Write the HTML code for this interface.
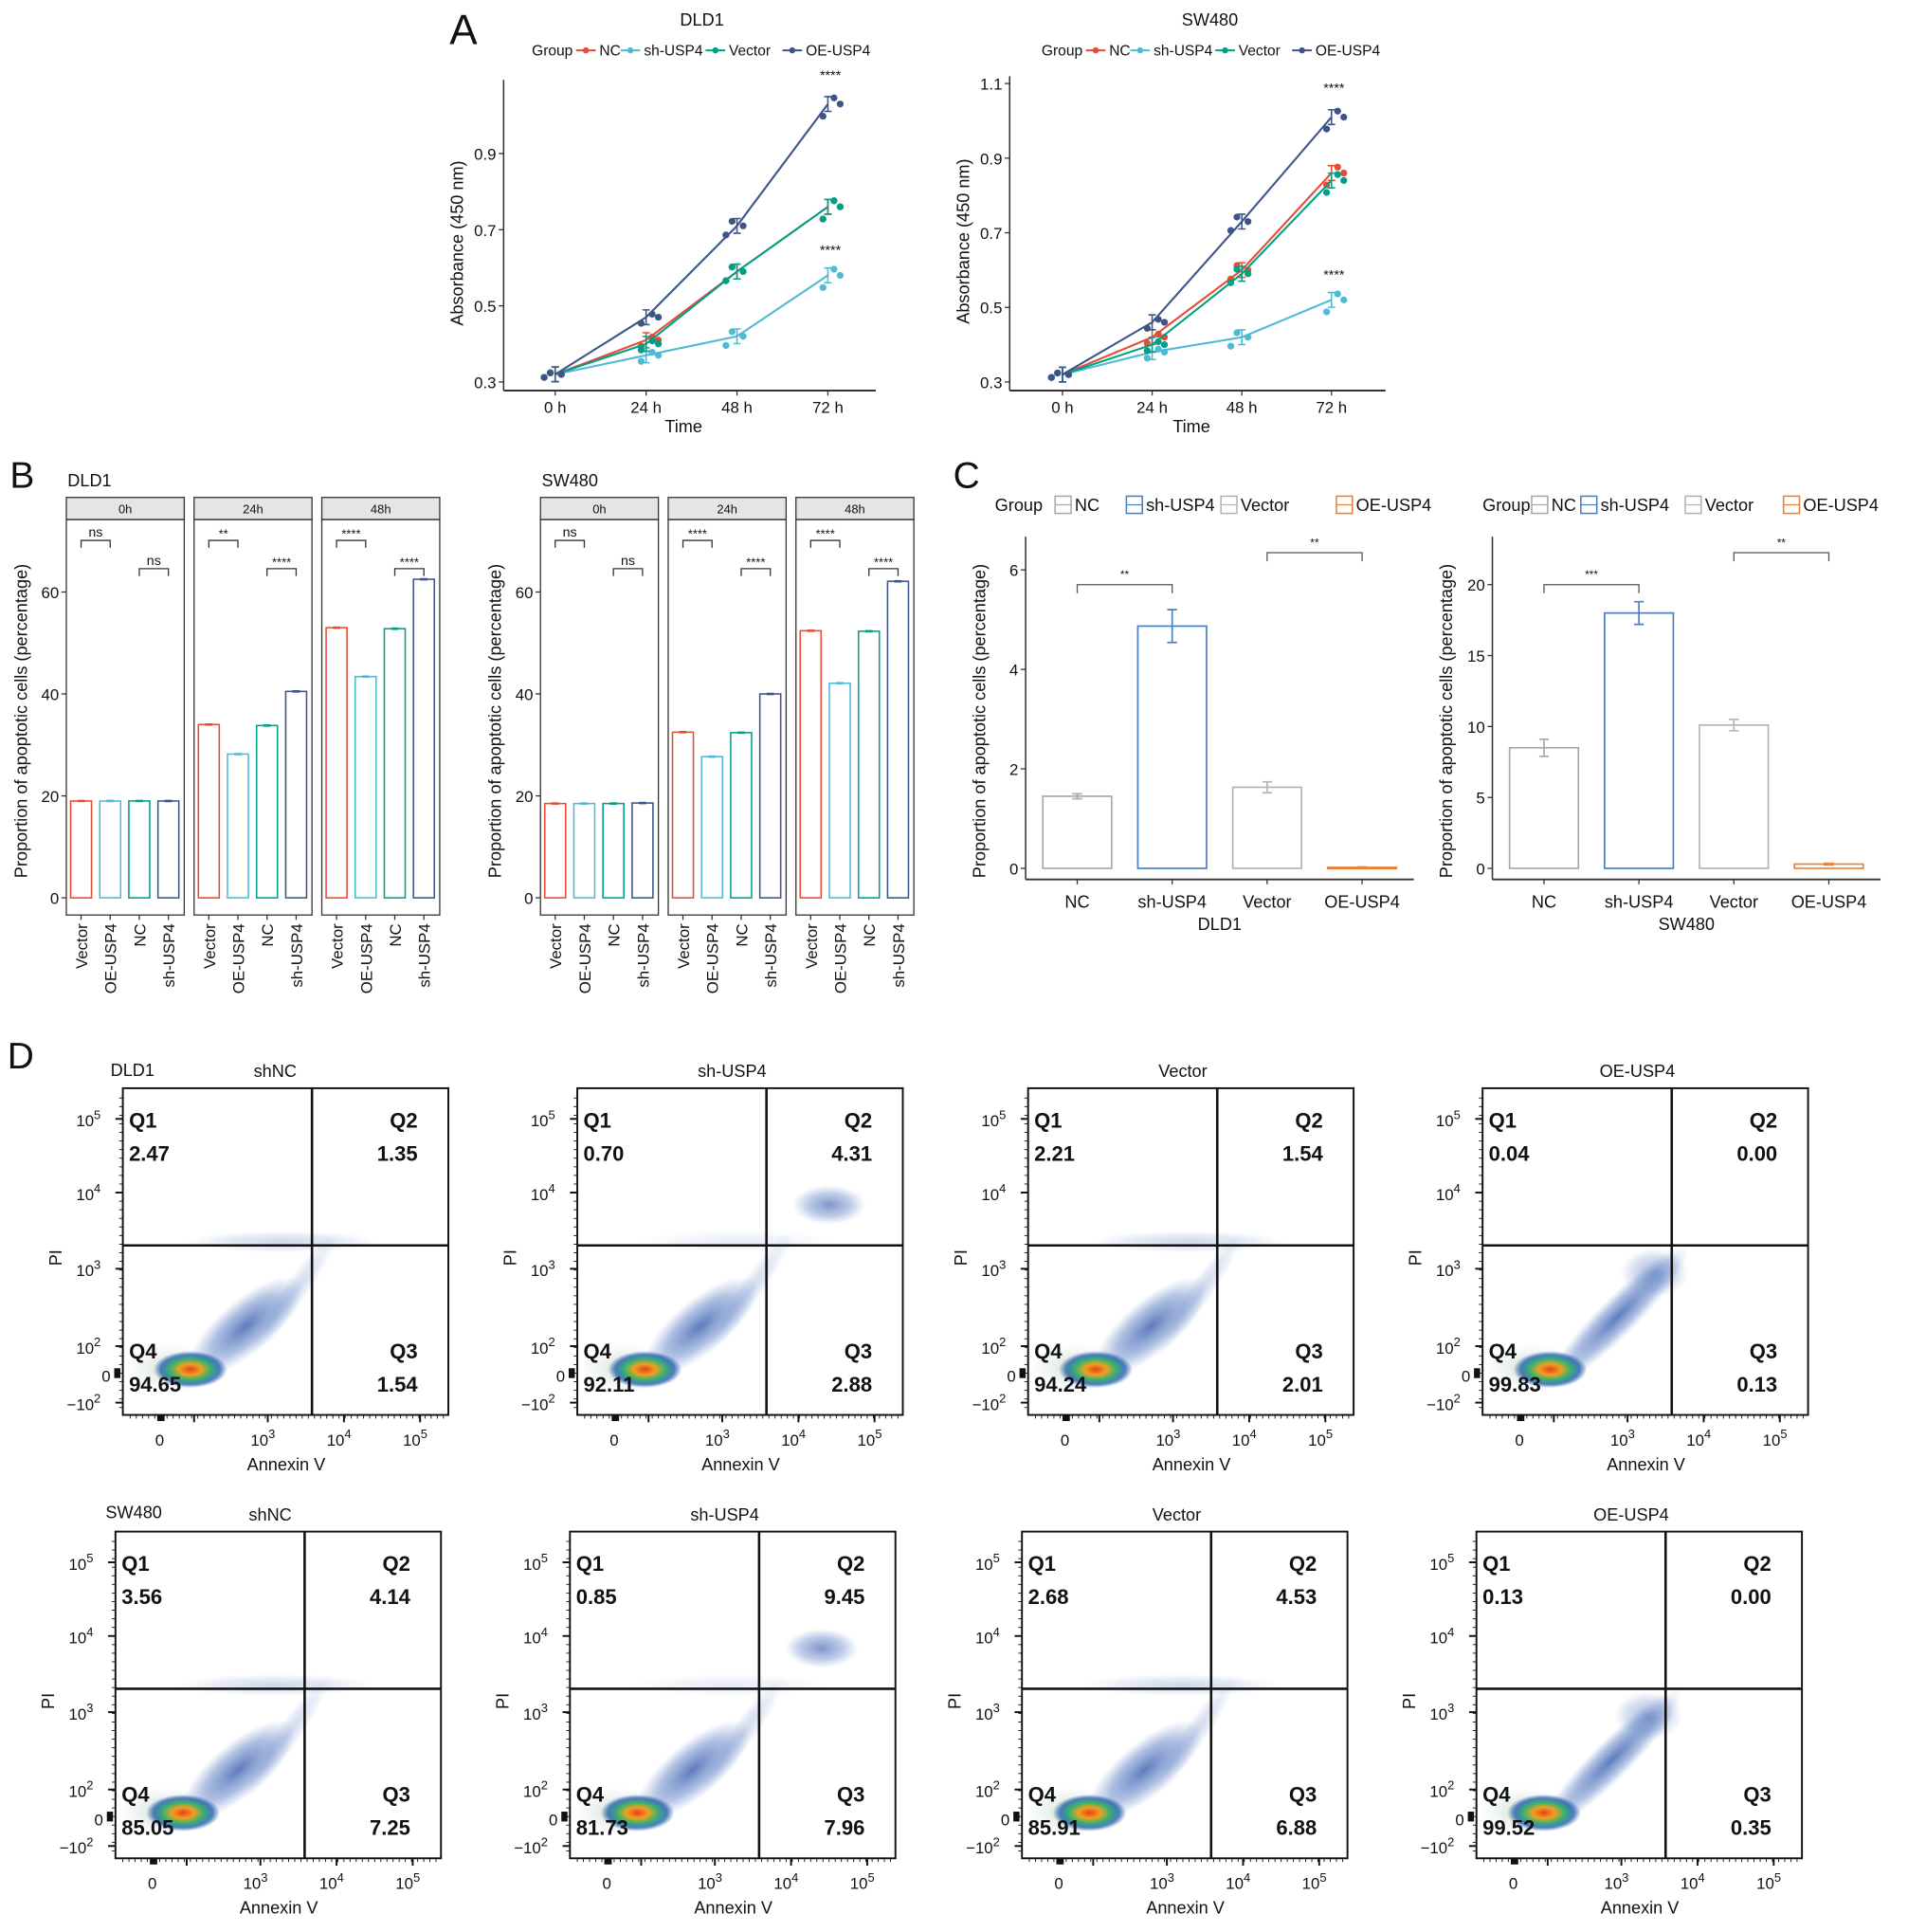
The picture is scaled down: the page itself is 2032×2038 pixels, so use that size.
<!DOCTYPE html>
<html><head><meta charset="utf-8"><style>
html,body{margin:0;padding:0;background:#fff}
svg{display:block;font-family:"Liberation Sans",Arial,sans-serif}
</style></head><body>
<svg id="fig" width="2032" height="2038" viewBox="0 0 1568 1573" preserveAspectRatio="none" xmlns="http://www.w3.org/2000/svg">
<defs>
<radialGradient id="core" cx="50%" cy="50%" r="50%">
<stop offset="0" stop-color="#e8401c"/><stop offset="0.3" stop-color="#f0a020"/><stop offset="0.55" stop-color="#3bb36a"/><stop offset="0.8" stop-color="#2060b0" stop-opacity="0.8"/><stop offset="1" stop-color="#2050a0" stop-opacity="0"/>
</radialGradient>
<radialGradient id="halo" cx="50%" cy="50%" r="50%">
<stop offset="0" stop-color="#c8d8c0" stop-opacity="0.9"/><stop offset="1" stop-color="#d8e4e8" stop-opacity="0"/>
</radialGradient>
<radialGradient id="tail" cx="50%" cy="50%" r="50%">
<stop offset="0" stop-color="#2a4fa8" stop-opacity="0.75"/><stop offset="0.6" stop-color="#3a66b8" stop-opacity="0.4"/><stop offset="1" stop-color="#5a80c8" stop-opacity="0"/>
</radialGradient>
</defs>
</svg>
<script>
// ---------- DATA ----------
const timeLabels = ['0 h','24 h','48 h','72 h'];
const groupNames = ['NC','sh-USP4','Vector','OE-USP4'];
const dldNC = [0.32,0.41,0.59,0.76];
const dldSh = [0.32,0.37,0.42,0.58];
const dldVec = [0.32,0.40,0.59,0.76];
const dldOE = [0.32,0.47,0.71,1.03];
const swNC = [0.32,0.42,0.60,0.86];
const swSh = [0.32,0.38,0.42,0.52];
const swVec = [0.32,0.40,0.59,0.84];
const swOE = [0.32,0.46,0.73,1.01];
const dldATicks = [0.3,0.5,0.7,0.9];
const swATicks = [0.3,0.5,0.7,0.9,1.1];

const facetNames = ['0h','24h','48h'];
const barCats = ['Vector','OE-USP4','NC','sh-USP4'];
const dldB0 = [19,19,19,19];
const dldB24 = [34,28.2,33.8,40.5];
const dldB48 = [53,43.4,52.8,62.5];
const swB0 = [18.5,18.5,18.5,18.6];
const swB24 = [32.5,27.7,32.4,40];
const swB48 = [52.4,42.1,52.3,62.1];
const bTicks = [0,20,40,60];
const dldSig = [['ns','ns'],['**','****'],['****','****']];
const swSig = [['ns','ns'],['****','****'],['****','****']];

const cCats = ['NC','sh-USP4','Vector','OE-USP4'];
const dldC = [1.45,4.87,1.63,0.02];
const dldCErr = [0.05,0.33,0.11,0.01];
const swC = [8.5,18.0,10.1,0.3];
const swCErr = [0.6,0.8,0.4,0.05];
const dldCTicks = [0,2,4,6];
const swCTicks = [0,5,10,15,20];

const flowTitles = ['shNC','sh-USP4','Vector','OE-USP4'];
const dldQ1 = ['2.47','0.70','2.21','0.04'];
const dldQ2 = ['1.35','4.31','1.54','0.00'];
const dldQ3 = ['1.54','2.88','2.01','0.13'];
const dldQ4 = ['94.65','92.11','94.24','99.83'];
const swQ1 = ['3.56','0.85','2.68','0.13'];
const swQ2 = ['4.14','9.45','4.53','0.00'];
const swQ3 = ['7.25','7.96','6.88','0.35'];
const swQ4 = ['85.05','81.73','85.91','99.52'];

// ---------- helpers ----------
const NS='http://www.w3.org/2000/svg';
const svg=document.getElementById('fig');
function mk(tag,attrs,parent){const e=document.createElementNS(NS,tag);for(const k in attrs)e.setAttribute(k,attrs[k]);(parent||svg).appendChild(e);return e;}
function nm(e,name,inter){


return e;}
function txt(x,y,s,size,opt,parent){opt=opt||{};const t=mk('text',{x:x,y:y,'font-size':size,'text-anchor':opt.anchor||'start',fill:opt.fill||'#111','font-weight':opt.weight||'normal'},parent);if(opt.rot)t.setAttribute('transform','rotate('+opt.rot+' '+x+' '+y+')');t.textContent=s;return t;}
function line(x1,y1,x2,y2,stroke,w,parent){return mk('line',{x1:x1,y1:y1,x2:x2,y2:y2,stroke:stroke,'stroke-width':w},parent);}
const COL={NC:'#e64b35',sh:'#4dbbd5',Vec:'#00a087',OE:'#3c5488'};

// ---------- Panel A ----------
nm(txt(366,36,'A',34,{}),'panel-a-label');
function lineChart(cfg){
const g=nm(mk('g',{}),cfg.name);
const y=v=>cfg.yb-(v-cfg.vmin)*cfg.k;
const x=i=>cfg.xs[0]+i*(cfg.xs[1]-cfg.xs[0]);
nm(txt((cfg.ax0+cfg.ax1)/2+10,21,cfg.title,14,{anchor:'middle'},g),'chart-title');
let lx=cfg.legX;
nm(txt(lx,45,'Group',12,{},g),'legend-title');
const ln=[['NC',COL.NC],['sh-USP4',COL.sh],['Vector',COL.Vec],['OE-USP4',COL.OE]];
lx+=36;
ln.forEach(([n,c])=>{const lg=nm(mk('g',{},g),'legend-entry-'+n,true);line(lx,41,lx+16,41,c,1.5,lg);mk('circle',{cx:lx+8,cy:41,r:2.5,fill:c},lg);txt(lx+19,45,n,12,{},lg);lx+=19+n.length*6.6+4;});
nm(line(cfg.ax0,cfg.yt,cfg.ax0,cfg.yb+7,'#333',1.2,g),'y-axis');
nm(line(cfg.ax0,cfg.yb+7,cfg.ax1,cfg.yb+7,'#333',1.5,g),'x-axis');
cfg.ticks.forEach(t=>{line(cfg.ax0-4,y(t),cfg.ax0,y(t),'#333',1,g);nm(txt(cfg.ax0-6,y(t)+5,t.toFixed(1),13,{anchor:'end'},g),'y-tick-label');});
timeLabels.forEach((l,i)=>{line(x(i),cfg.yb+7,x(i),cfg.yb+11,'#333',1,g);nm(txt(x(i),cfg.yb+25,l,13,{anchor:'middle'},g),'x-tick-label');});
nm(txt((cfg.ax0+cfg.ax1)/2-5,cfg.yb+41,'Time',14,{anchor:'middle'},g),'x-axis-title');
nm(txt(cfg.ax0-33,(cfg.yt+cfg.yb)/2+10,'Absorbance (450 nm)',14,{anchor:'middle',rot:-90},g),'y-axis-title');
const jit=[-9,-4,5,10];
cfg.series.forEach(([nmS,arr,c])=>{
const sg=nm(mk('g',{},g),'series-'+nmS);
const pts=arr.map((v,i)=>x(i)+','+y(v)).join(' ');
nm(mk('polyline',{points:pts,fill:'none',stroke:c,'stroke-width':1.6},sg),'line-'+nmS);
arr.forEach((v,i)=>{
[-0.008,0.004,0.0].forEach((d,j)=>{const p=mk('circle',{cx:x(i)+jit[j+(i%2)],cy:y(v+d*(i+1)),r:2.8,fill:c},sg);

});
const e=mk('path',{d:`M${x(i)-3},${y(v)-6}h6M${x(i)},${y(v)-6}v12M${x(i)-3},${y(v)+6}h6`,stroke:c,'stroke-width':1.2,fill:'none'},sg);


});});
nm(txt(x(3)+2,y(cfg.series[3][1][3])-20,'****',11,{anchor:'middle'},g),'sig-oe');
nm(txt(x(3)+2,y(cfg.series[1][1][3])-17,'****',11,{anchor:'middle'},g),'sig-sh');
}
lineChart({name:'chart-a-dld1',title:'DLD1',legX:433,ax0:410,ax1:713,xs:[452,526],yt:65,yb:311,vmin:0.3,k:310,ticks:dldATicks,
series:[['NC',dldNC,COL.NC],['sh-USP4',dldSh,COL.sh],['Vector',dldVec,COL.Vec],['OE-USP4',dldOE,COL.OE]]});
lineChart({name:'chart-a-sw480',title:'SW480',legX:848,ax0:822,ax1:1128,xs:[865,938],yt:62,yb:311,vmin:0.3,k:303.75,ticks:swATicks,
series:[['NC',swNC,COL.NC],['sh-USP4',swSh,COL.sh],['Vector',swVec,COL.Vec],['OE-USP4',swOE,COL.OE]]});

// ---------- Panel B ----------
nm(txt(8,397,'B',30,{}),'panel-b-label');
const bCols=[COL.NC,COL.sh,COL.Vec,COL.OE];
function facetChart(cfg){
const g=nm(mk('g',{}),cfg.name);
nm(txt(cfg.fx[0]+1,396,cfg.title,14,{},g),'chart-title');
const y=v=>731-v*4.15;
cfg.ticks.forEach(t=>{line(cfg.fx[0]-4,y(t),cfg.fx[0],y(t),'#333',1,g);nm(txt(cfg.fx[0]-6,y(t)+5,String(t),13,{anchor:'end'},g),'y-tick-label');});
nm(txt(cfg.fx[0]-32,587,'Proportion of apoptotic cells (percentage)',14,{anchor:'middle',rot:-90},g),'y-axis-title');
cfg.data.forEach((vals,fi)=>{
const fx=cfg.fx[fi];
const fg=nm(mk('g',{},g),'facet-'+facetNames[fi]);
nm(mk('rect',{x:fx,y:405,width:96,height:18,fill:'#e5e5e5',stroke:'#333','stroke-width':1},fg),'facet-strip');
nm(txt(fx+48,418,facetNames[fi],10,{anchor:'middle'},fg),'facet-strip-label');
nm(mk('rect',{x:fx,y:423,width:96,height:322,fill:'none',stroke:'#333','stroke-width':1},fg),'facet-panel');
const bx=i=>fx+12+i*23.7;
vals.forEach((v,i)=>{
const b=mk('rect',{x:bx(i)-8.5,y:y(v),width:17,height:y(0)-y(v),fill:'none',stroke:bCols[i],'stroke-width':1.2},fg);


line(bx(i)-3,y(v),bx(i)+3,y(v),bCols[i],2,fg);
line(bx(i),745,bx(i),749,'#333',1,fg);
nm(txt(bx(i)+5,752,barCats[i],13,{anchor:'end',rot:-90},fg),'x-tick-label');
});
const sg=cfg.sig[fi];
[[0,1,440],[2,3,463]].forEach(([a,b2,yy],k)=>{
nm(mk('path',{d:`M${bx(a)},${yy+6}V${yy}H${bx(b2)}V${yy+6}`,fill:'none',stroke:'#333','stroke-width':1},fg),'significance-bracket');
nm(txt((bx(a)+bx(b2))/2,yy-(sg[k]==='ns'?3:2),sg[k],sg[k]==='ns'?11:10,{anchor:'middle'},fg),'significance-label');
});
});
}
facetChart({name:'chart-b-dld1',title:'DLD1',fx:[54,158,262],ticks:bTicks,data:[dldB0,dldB24,dldB48],sig:dldSig});
facetChart({name:'chart-b-sw480',title:'SW480',fx:[440,544,648],ticks:bTicks,data:[swB0,swB24,swB48],sig:swSig});

// ---------- Panel C ----------
nm(txt(776,397,'C',30,{}),'panel-c-label');
const cCols=['#a8a8a8','#4a7fc1','#b4b4b4','#e8823a'];
function barChart(cfg){
const g=nm(mk('g',{}),cfg.name);
const y=v=>707-v*cfg.k;
const x=i=>cfg.x0+i*77.3;
let lx=cfg.legX;
nm(txt(lx,416,'Group',14,{},g),'legend-title');
lx+=cfg.gapG;
cCats.forEach((n,i)=>{const lg=nm(mk('g',{},g),'legend-entry-'+n,true);mk('rect',{x:lx,y:404,width:13,height:14,fill:'none',stroke:cCols[i],'stroke-width':1.2},lg);line(lx,411,lx+13,411,cCols[i],1,lg);txt(lx+16,416,n,14,{},lg);lx+=cfg.gaps[i];});
nm(line(cfg.ax0,437,cfg.ax0,716,'#333',1.2,g),'y-axis');
nm(line(cfg.ax0,716,cfg.ax0+316,716,'#333',1.5,g),'x-axis');
cfg.ticks.forEach(t=>{line(cfg.ax0-4,y(t),cfg.ax0,y(t),'#333',1,g);nm(txt(cfg.ax0-6,y(t)+5,String(t),13,{anchor:'end'},g),'y-tick-label');});
nm(txt(cfg.ax0-33,587,'Proportion of apoptotic cells (percentage)',14,{anchor:'middle',rot:-90},g),'y-axis-title');
cfg.vals.forEach((v,i)=>{
const b=mk('rect',{x:x(i)-28,y:y(v),width:56,height:Math.max(1,y(0)-y(v)),fill:'none',stroke:cCols[i],'stroke-width':1.3},g);


const e=cfg.err[i];
const eb=mk('path',{d:`M${x(i)-4},${y(v+e)}h8M${x(i)},${y(v+e)}V${y(v-e)}M${x(i)-4},${y(v-e)}h8`,stroke:cCols[i],'stroke-width':1.3,fill:'none'},g);


line(x(i),716,x(i),720,'#333',1,g);
nm(txt(x(i),739,cCats[i],14,{anchor:'middle'},g),'x-tick-label');
});
nm(txt(cfg.x0+116,757,cfg.title,14,{anchor:'middle'},g),'x-axis-title');
[[0,1,476,cfg.sig[0]],[2,3,450,cfg.sig[1]]].forEach(([a,b2,yy,s])=>{
nm(mk('path',{d:`M${x(a)},${yy+7}V${yy}H${x(b2)}V${yy+7}`,fill:'none',stroke:'#555','stroke-width':1},g),'significance-bracket');
nm(txt((x(a)+x(b2))/2,yy-5,s,9,{anchor:'middle'},g),'significance-label');
});
}
barChart({name:'chart-c-dld1',title:'DLD1',legX:810,gapG:49,gaps:[58,77,94,80],x0:877,ax0:835,k:40.5,ticks:dldCTicks,vals:dldC,err:dldCErr,sig:['**','**']});
barChart({name:'chart-c-sw480',title:'SW480',legX:1207,gapG:40,gaps:[40,85,80,80],x0:1257,ax0:1215,k:11.55,ticks:swCTicks,vals:swC,err:swCErr,sig:['***','**']});

// ---------- Panel D ----------
nm(txt(6,870,'D',30,{}),'panel-d-label');
function sup(x,y,base,exp,anchor,parent){const t=mk('text',{x:x,y:y,'font-size':13,'text-anchor':anchor,fill:'#111'},parent);t.appendChild(document.createTextNode(base));const s=mk('tspan',{dy:-6,'font-size':10},t);s.textContent=exp;return t;}
function flow(cfg){
const L=cfg.l,T=cfg.t,R=L+265,B=T+266;
const g=nm(mk('g',{}),cfg.name);
const c=nm(mk('g',{},g),'event-density');
mk('ellipse',{cx:L+40,cy:B-38,rx:38,ry:20,fill:'url(#halo)'},c);
if(cfg.kind==='oe'){
mk('ellipse',{cx:L+110,cy:B-80,rx:80,ry:16,fill:'url(#tail)',transform:`rotate(-45 ${L+110} ${B-80})`},c);
mk('ellipse',{cx:L+140,cy:T+150,rx:28,ry:20,fill:'url(#tail)',opacity:0.55},c);
}else{
mk('ellipse',{cx:L+100,cy:B-72,rx:58,ry:22,fill:'url(#tail)',transform:`rotate(-40 ${L+100} ${B-72})`},c);
mk('ellipse',{cx:L+140,cy:B-100,rx:60,ry:10,fill:'url(#tail)',opacity:0.3,transform:`rotate(-55 ${L+140} ${B-100})`},c);
mk('ellipse',{cx:L+130,cy:T+125,rx:80,ry:9,fill:'url(#tail)',opacity:cfg.kind==='sh'?0.15:0.3},c);
}
if(cfg.kind==='sh'){mk('ellipse',{cx:L+205,cy:T+95,rx:30,ry:16,fill:'url(#tail)',opacity:0.8},c);}
mk('ellipse',{cx:L+55,cy:B-37,rx:30,ry:15,fill:'url(#core)'},c);
nm(mk('rect',{x:L,y:T,width:265,height:266,fill:'none',stroke:'#111','stroke-width':1.5},g),'plot-frame');
nm(line(L+154,T,L+154,B,'#111',2,g),'gate-vertical');
nm(line(L,T+128,R,T+128,'#111',2,g),'gate-horizontal');
nm(txt(L+5,T+32,'Q1',17,{weight:'bold'},g),'quadrant-label-q1');
nm(txt(L+5,T+59,cfg.q[0],17,{weight:'bold'},g),'quadrant-value-q1');
nm(txt(R-25,T+32,'Q2',17,{weight:'bold',anchor:'end'},g),'quadrant-label-q2');
nm(txt(R-25,T+59,cfg.q[1],17,{weight:'bold',anchor:'end'},g),'quadrant-value-q2');
nm(txt(R-25,B-46,'Q3',17,{weight:'bold',anchor:'end'},g),'quadrant-label-q3');
nm(txt(R-25,B-19,cfg.q[2],17,{weight:'bold',anchor:'end'},g),'quadrant-value-q3');
nm(txt(L+5,B-46,'Q4',17,{weight:'bold'},g),'quadrant-label-q4');
nm(txt(L+5,B-19,cfg.q[3],17,{weight:'bold'},g),'quadrant-value-q4');
[[T+25,'5'],[T+85,'4'],[T+147,'3'],[T+210,'2']].forEach(([yy,e])=>{line(L-6,yy,L,yy,'#111',1.5,g);nm(sup(L-18,yy+6,'10',e,'end',g),'y-tick-label');});
nm(txt(L-10,B-27,'0',13,{anchor:'end'},g),'y-tick-label');
line(L-6,B-10,L,B-10,'#111',1.5,g);
nm(sup(L-18,B-4,'\u221210','2','end',g),'y-tick-label');
for(let yy=T+8;yy<B;yy+=7){line(L-3,yy,L,yy,'#111',0.7,g);}
mk('rect',{x:L-7,y:B-38,width:5,height:8,fill:'#111'},g);
for(let xx=L+6;xx<R;xx+=5){line(xx,B,xx,B+3,'#111',0.7,g);}
mk('rect',{x:L+28,y:B,width:6,height:5,fill:'#111'},g);
[[L+58,null],[L+118,'3'],[L+180,'4'],[L+242,'5']].forEach(([xx,e])=>{line(xx,B,xx,B+6,'#111',1.5,g);if(e)nm(sup(xx-4,B+25,'10',e,'middle',g),'x-tick-label');});
nm(txt(L+30,B+25,'0',13,{anchor:'middle'},g),'x-tick-label');
nm(txt(L+133,B+45,'Annexin V',14,{anchor:'middle'},g),'x-axis-title');
nm(txt(L-50,T+138,'PI',14,{anchor:'middle',rot:-90},g),'y-axis-title');
nm(txt(cfg.tx,T-9,cfg.title,14,{anchor:'middle'},g),'plot-title');
}
const kinds=['nc','sh','nc','oe'];
const row1L=[100,470,837,1207], row2L=[94,464,832,1202];
nm(txt(90,876,'DLD1',14,{}),'row-label-dld1');
nm(txt(86,1236,'SW480',14,{}),'row-label-sw480');
for(let i=0;i<4;i++){
flow({name:'flow-dld1-'+flowTitles[i],l:row1L[i],t:886,title:flowTitles[i],tx:i===0?224:row1L[i]+126,kind:kinds[i],q:[dldQ1[i],dldQ2[i],dldQ3[i],dldQ4[i]]});
flow({name:'flow-sw480-'+flowTitles[i],l:row2L[i],t:1247,title:flowTitles[i],tx:i===0?220:row2L[i]+126,kind:kinds[i],q:[swQ1[i],swQ2[i],swQ3[i],swQ4[i]]});
}
</script>
</body></html>
